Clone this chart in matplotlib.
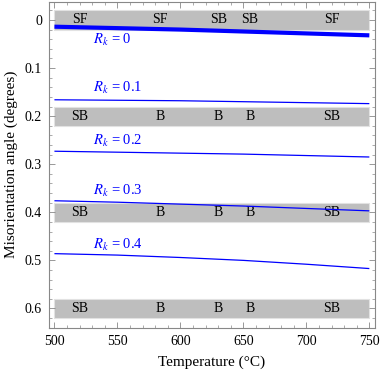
import matplotlib
matplotlib.use("Agg")
import matplotlib.pyplot as plt
from matplotlib.ticker import MultipleLocator

plt.rcParams['font.family'] = ['Liberation Serif', 'DejaVu Serif']
plt.rcParams['mathtext.fontset'] = 'stix'

temps = [500, 550, 600, 650, 700, 750]
rk_values = ["0", "0.1", "0.2", "0.3", "0.4"]
angle_rk0 = [0.014, 0.017, 0.020, 0.024, 0.028, 0.032]
angle_rk01 = [0.166, 0.167, 0.168, 0.170, 0.172, 0.174]
angle_rk02 = [0.273, 0.275, 0.277, 0.279, 0.282, 0.285]
angle_rk03 = [0.376, 0.379, 0.383, 0.387, 0.392, 0.397]
angle_rk04 = [0.486, 0.489, 0.494, 0.500, 0.508, 0.517]
series = [angle_rk0, angle_rk01, angle_rk02, angle_rk03, angle_rk04]
label_y = [0.042, 0.142, 0.252, 0.356, 0.468]

band_centers = [0.0, 0.2, 0.4, 0.6]
band_label_temps = [520, 584, 630, 655, 720]
band_labels = [
    ["SF", "SF", "SB", "SB", "SF"],
    ["SB", "B", "B", "B", "SB"],
    ["SB", "B", "B", "B", "SB"],
    ["SB", "B", "B", "B", "SB"],
]

fig = plt.figure(figsize=(3.82, 3.74), dpi=100)
ax = fig.add_axes([0.1283, 0.1238, 0.8534, 0.8717])

for c, labs in zip(band_centers, band_labels):
    ax.fill_between([500, 750], [c - 0.02, c - 0.02], [c + 0.02, c + 0.02],
                    facecolor='#bebebe', edgecolor='#e2e2e2', linewidth=0.8, zorder=1)
    for t, s in zip(band_label_temps, labs):
        ax.text(t, c, s, ha='center', va='center', fontsize=10, color='black', zorder=2)

for i, (rk, vals) in enumerate(zip(rk_values, series)):
    lw = 3.0 if i == 0 else 0.9
    ax.plot(temps, vals, color='#0000ff', linewidth=lw, zorder=3,
            solid_capstyle='butt')
    ax.text(531, label_y[i], r'$R_k$ = ' + rk, color='#0000ff', fontsize=10.5,
            ha='left', va='center', zorder=4)

ax.set_xlim(495.7, 754.5)
ax.set_ylim(0.640, -0.038)
ax.xaxis.set_major_locator(MultipleLocator(50))
ax.xaxis.set_minor_locator(MultipleLocator(10))
ax.yaxis.set_major_locator(MultipleLocator(0.1))
ax.yaxis.set_minor_locator(MultipleLocator(0.02))
ax.set_yticks([0, 0.1, 0.2, 0.3, 0.4, 0.5, 0.6])
ax.set_yticklabels(["0", "0.1", "0.2", "0.3", "0.4", "0.5", "0.6"])

ax.tick_params(which='both', direction='in', top=True, right=True, color='#888888',
               labelsize=10)
ax.tick_params(which='major', length=4, width=0.6, pad=5)
ax.tick_params(which='minor', length=2, width=0.5)
for sp in ax.spines.values():
    sp.set_color('#888888')
    sp.set_linewidth(0.8)

ax.set_xlabel('Temperature (°C)', fontsize=11, labelpad=6)
ax.set_ylabel('Misorientation angle (degrees)', fontsize=11, labelpad=5)

fig.savefig('out.png', dpi=100)
